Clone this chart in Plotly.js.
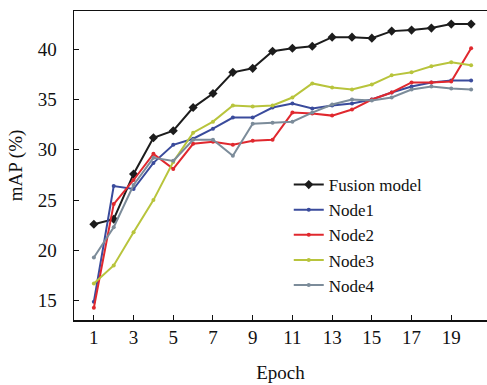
<!DOCTYPE html>
<html>
<head>
<meta charset="utf-8">
<script src="https://cdn.plot.ly/plotly-3.0.1.min.js"></script>
<style>html,body{margin:0;padding:0;background:#fff;}#chart{width:487px;height:385px;}</style>
</head>
<body>
<div id="chart"></div>
<script>
const epochs = [1,2,3,4,5,6,7,8,9,10,11,12,13,14,15,16,17,18,19,20];
const fusionModel = [22.6,23.1,27.6,31.2,31.9,34.2,35.6,37.7,38.1,39.8,40.1,40.3,41.2,41.2,41.1,41.8,41.9,42.1,42.5,42.5];
const node1 = [14.9,26.4,26.1,28.7,30.5,31.1,32.1,33.2,33.2,34.2,34.6,34.1,34.4,34.6,35.0,35.7,36.3,36.7,36.9,36.9];
const node2 = [14.3,24.6,27.0,29.6,28.1,30.6,30.8,30.5,30.9,31.0,33.7,33.6,33.4,34.0,35.0,35.7,36.7,36.7,36.8,40.1];
const node3 = [16.7,18.5,21.8,25.0,28.8,31.7,32.8,34.4,34.3,34.4,35.2,36.6,36.2,36.0,36.5,37.4,37.7,38.3,38.7,38.4];
const node4 = [19.3,22.3,26.5,29.2,28.9,31.0,31.0,29.4,32.6,32.7,32.8,33.7,34.5,35.0,34.9,35.2,36.0,36.3,36.1,36.0];
const seriesNames = ["Fusion model","Node1","Node2","Node3","Node4"];
const xTicks = [1,3,5,7,9,11,13,15,17,19];

const colors = ["#1c1c1c","#3a4b9c","#e0282e","#b8c43c","#7c8c9a"];
const data = [fusionModel,node1,node2,node3,node4];
const traces = data.map((ys,i)=>({
  x: epochs, y: ys, name: seriesNames[i], type: "scatter", mode: "lines+markers",
  line: {color: colors[i], width: 2},
  marker: {color: colors[i], size: i===0 ? 7 : 4, symbol: i===0 ? "diamond" : "circle"}
}));

const font = {family: "Liberation Serif, Times New Roman, serif", color: "#111", size: 19};
const layout = {
  width: 487, height: 385,
  margin: {l: 74, r: 0, t: 11, b: 65},
  paper_bgcolor: "#fff", plot_bgcolor: "#fff",
  font: font,
  showlegend: true,
  legend: {x: 0.52, y: 0.275, xanchor: "left", yanchor: "middle", bgcolor: "rgba(0,0,0,0)",
           font: {family: font.family, size: 17, color: "#111"}},
  xaxis: {
    range: [0, 20.8], tickvals: xTicks, ticktext: xTicks.map(String),
    showgrid: false, zeroline: false, showline: true, linecolor: "#111", linewidth: 1.5,
    mirror: true, ticks: "inside", ticklen: 5, tickcolor: "#111",
    tickfont: {family: font.family, size: 19, color: "#111"},
    title: {text: "Epoch", font: {family: font.family, size: 19, color: "#111"}, standoff: 18}
  },
  yaxis: {
    range: [13.08, 43.8], tickvals: [15,20,25,30,35,40],
    showgrid: false, zeroline: false, showline: true, linecolor: "#111", linewidth: 1.5,
    ticks: "inside", ticklen: 5, tickcolor: "#111", ticklabelstandoff: 12,
    tickfont: {family: font.family, size: 19, color: "#111"},
    title: {text: "mAP (%)", font: {family: font.family, size: 19, color: "#111"}, standoff: 10}
  }
};
Plotly.newPlot("chart", traces, layout, {staticPlot: true, displayModeBar: false});
</script>
</body>
</html>
